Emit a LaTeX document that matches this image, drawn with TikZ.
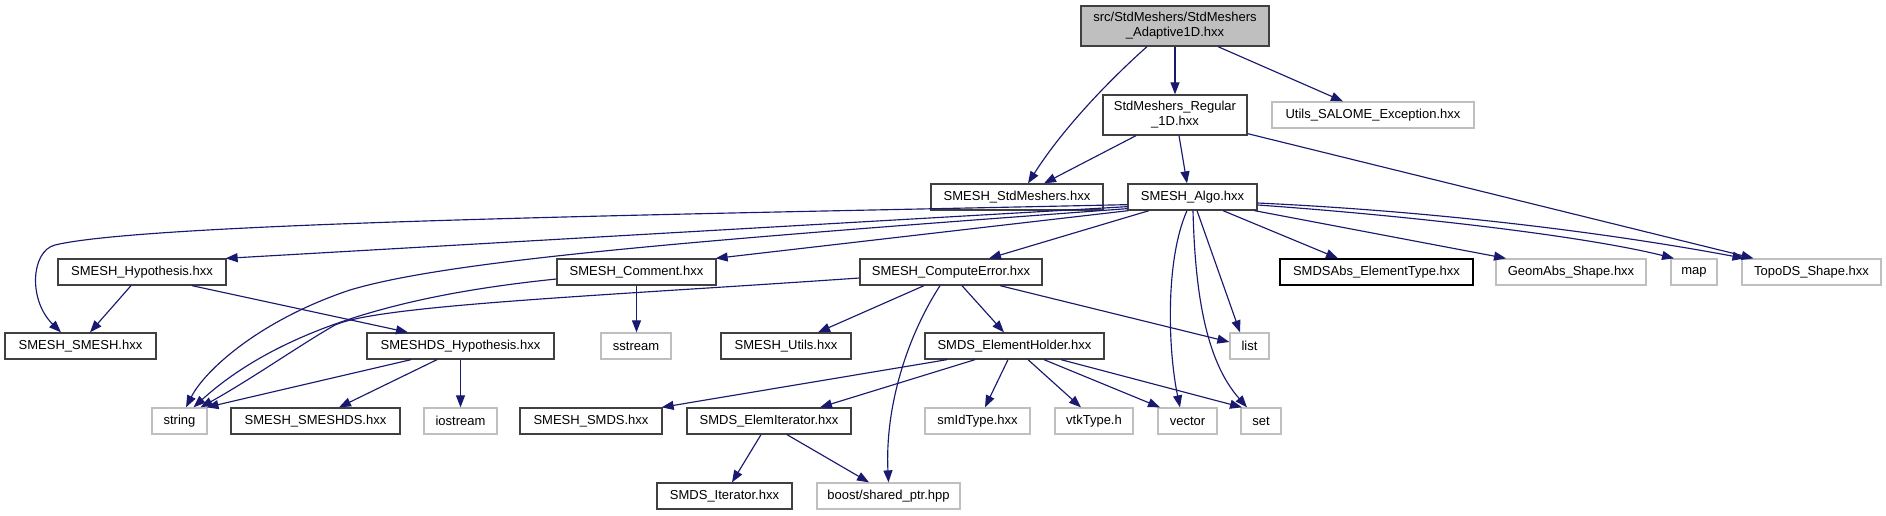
\documentclass[tikz,border=0pt]{standalone}
\usepackage{fontspec}
\setmainfont{Liberation Sans}
\usetikzlibrary{arrows.meta}
\definecolor{edgec}{HTML}{191970}
\definecolor{graybd}{HTML}{BFBFBF}
\definecolor{darkbd}{HTML}{404040}
\begin{document}
\begin{tikzpicture}[x=1pt,y=-1pt,
  nd/.style={draw=darkbd, fill=white, line width=1.3pt, rectangle, inner sep=0pt, minimum height=26pt, font=\fontsize{13}{15}\selectfont, align=center},
  ext/.style={nd, draw=graybd},
  dep/.style={draw=edgec, line width=1.15pt, -{Triangle[length=12pt,width=9pt]}}]
\useasboundingbox (0,0) rectangle (1886,515);
% row 0-1
\node[nd, fill=graybd, minimum width=188pt, minimum height=40pt] (top) at (1175,26) {src/StdMeshers/StdMeshers\\\_Adaptive1D.hxx};
\node[nd, minimum width=144pt, minimum height=40pt] (reg) at (1175,115) {StdMeshers\_Regular\\\_1D.hxx};
\node[ext, minimum width=202pt] (utils) at (1373,115) {Utils\_SALOME\_Exception.hxx};
% row 2
\node[nd, minimum width=172pt] (stdm) at (1017,197) {SMESH\_StdMeshers.hxx};
\node[nd, minimum width=129pt] (algo) at (1192.5,197) {SMESH\_Algo.hxx};
% row 3
\node[nd, minimum width=168pt] (hyp) at (142,272) {SMESH\_Hypothesis.hxx};
\node[nd, minimum width=159pt] (comment) at (636.5,272) {SMESH\_Comment.hxx};
\node[nd, minimum width=182pt] (comperr) at (951,272) {SMESH\_ComputeError.hxx};
\node[nd, draw=black, minimum width=193pt] (smdsabs) at (1376.5,272) {SMDSAbs\_ElementType.hxx};
\node[ext, minimum width=150pt] (geomabs) at (1571,272) {GeomAbs\_Shape.hxx};
\node[ext, minimum width=46pt] (map) at (1694,272) {map};
\node[ext, minimum width=139pt] (topods) at (1811.5,272) {TopoDS\_Shape.hxx};
% row 4
\node[nd, minimum width=151pt] (smesh) at (80.5,346) {SMESH\_SMESH.hxx};
\node[nd, minimum width=187pt] (smeshdshyp) at (460.5,346) {SMESHDS\_Hypothesis.hxx};
\node[ext, minimum width=70pt] (sstream) at (636,346) {sstream};
\node[nd, minimum width=130pt] (utilsx) at (786,346) {SMESH\_Utils.hxx};
\node[nd, minimum width=179pt] (elemholder) at (1014.5,346) {SMDS\_ElementHolder.hxx};
\node[ext, minimum width=39pt] (list) at (1249.5,346) {list};
% row 5
\node[ext, minimum width=55pt] (string) at (179.5,421) {string};
\node[nd, minimum width=169pt] (smeshds) at (315.5,421) {SMESH\_SMESHDS.hxx};
\node[ext, minimum width=73pt] (iostream) at (460.5,421) {iostream};
\node[nd, minimum width=142pt] (smds) at (591,421) {SMESH\_SMDS.hxx};
\node[nd, minimum width=164pt] (elemit) at (769,421) {SMDS\_ElemIterator.hxx};
\node[ext, minimum width=105pt] (smid) at (977.5,421) {smIdType.hxx};
\node[ext, minimum width=78pt] (vtk) at (1094,421) {vtkType.h};
\node[ext, minimum width=59pt] (vector) at (1187.5,421) {vector};
\node[ext, minimum width=40pt] (set) at (1261,421) {set};
% row 6
\node[nd, minimum width=135pt] (iter) at (724.5,496) {SMDS\_Iterator.hxx};
\node[ext, minimum width=143pt] (boost) at (888.5,496) {boost/shared\_ptr.hpp};
% edges
\draw[dep] ([xshift=-28]top.south) .. controls (1115,75) and (1065,125) .. ([xshift=11]stdm.north);
\draw[dep] (top.south) -- (reg.north);
\draw[dep] ([xshift=43]top.south) -- ([xshift=-30]utils.north);
\draw[dep] ([xshift=-39]reg.south) -- ([xshift=27]stdm.north);
\draw[dep] ([xshift=4]reg.south) -- ([xshift=-5.5]algo.north);
\draw[dep] ([yshift=2]reg.south east) -- ([xshift=-58]topods.north);
\draw[dep] ([yshift=6]algo.south west) .. controls (700,214) and (150,222) .. (55,245) .. controls (31,251) and (28,300) .. ([xshift=-19.5]smesh.north);
\draw[dep] ([yshift=4]algo.south west) -- ([xshift=-1]hyp.north east);
\draw[dep] ([yshift=2]algo.south west) .. controls (700,240) and (450,260) .. (350,290) .. controls (260,320) and (205,370) .. ([xshift=6.5]string.north);
\draw[dep] ([xshift=1]algo.south west) -- ([xshift=-1]comment.north east);
\draw[dep] ([xshift=-43.5]algo.south) -- ([xshift=38]comperr.north);
\draw[dep] ([xshift=30.5]algo.south) -- ([xshift=-38.5]smdsabs.north);
\draw[dep] ([xshift=62]algo.south) -- ([xshift=-65]geomabs.north);
\draw[dep] ([yshift=-8]algo.east) .. controls (1400,215) and (1580,235) .. ([xshift=-20]map.north);
\draw[dep] ([yshift=-6]algo.east) .. controls (1450,212) and (1620,235) .. ([xshift=-67]topods.north);
\draw[dep] ([xshift=-5.5]algo.south) .. controls (1165,260) and (1168,350) .. ([xshift=-7.5]vector.north);
\draw[dep] ([xshift=4.5]algo.south) -- ([xshift=-9.5]list.north);
\draw[dep] ([xshift=0.5]algo.south) .. controls (1195,290) and (1205,360) .. ([xshift=-14]set.north);
\draw[dep] ([xshift=-11]hyp.south) -- ([xshift=9.5]smesh.north);
\draw[dep] ([xshift=50]hyp.south) -- ([xshift=-52.5]smeshdshyp.north);
\draw[dep] ([yshift=-7]comment.west) .. controls (430,292) and (290,320) .. ([xshift=14]string.north);
\draw[dep] (comment.south) -- ([xshift=0.5]sstream.north);
\draw[dep] ([yshift=-6]comperr.west) .. controls (600,296) and (380,305) .. (335,325) .. controls (300,345) and (250,380) .. ([xshift=21]string.north);
\draw[dep] ([xshift=-27]comperr.south) -- ([xshift=32]utilsx.north);
\draw[dep] ([xshift=11]comperr.south) -- ([xshift=-10.5]elemholder.north);
\draw[dep] ([xshift=49]comperr.south) -- ([yshift=4]list.west);
\draw[dep] ([xshift=-11]comperr.south) .. controls (905,340) and (885,410) .. (boost.north);
\draw[dep] ([xshift=-49.5]smeshdshyp.south) -- ([xshift=27]string.north);
\draw[dep] ([xshift=-23.5]smeshdshyp.south) -- ([xshift=23.5]smeshds.north);
\draw[dep] (smeshdshyp.south) -- (iostream.north);
\draw[dep] ([xshift=-67.5]elemholder.south) -- ([xshift=-1]smds.north east);
\draw[dep] ([xshift=-39.5]elemholder.south) -- ([xshift=51]elemit.north);
\draw[dep] ([xshift=-6.5]elemholder.south) -- ([xshift=7.5]smid.north);
\draw[dep] ([xshift=13.5]elemholder.south) -- ([xshift=-13]vtk.north);
\draw[dep] ([xshift=29.5]elemholder.south) -- ([xshift=-27.5]vector.north);
\draw[dep] ([xshift=46.5]elemholder.south) -- ([xshift=-19]set.north);
\draw[dep] ([xshift=-8]elemit.south) -- ([xshift=7.5]iter.north);
\draw[dep] ([xshift=18]elemit.south) -- ([xshift=-19.5]boost.north);
\end{tikzpicture}
\end{document}
